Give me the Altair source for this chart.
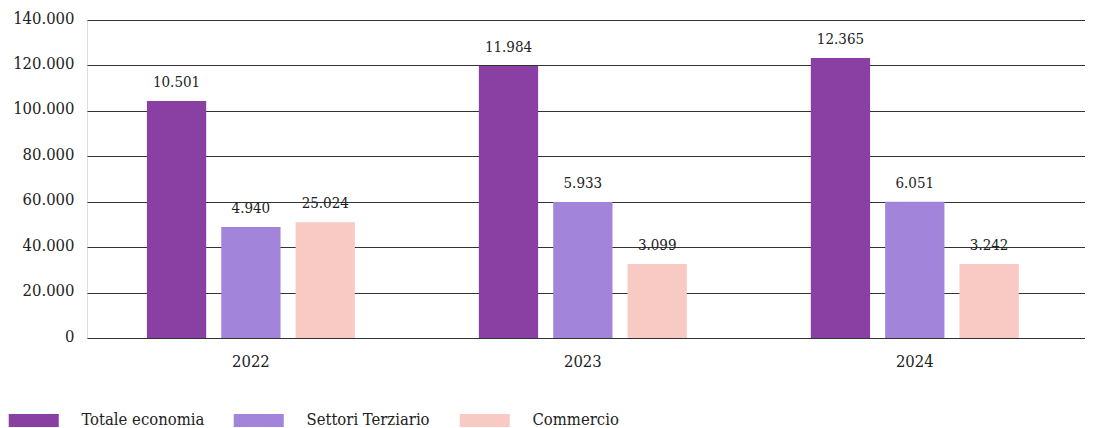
import altair as alt
import pandas as pd

years = ["2022", "2023", "2024"]
series = ["Totale economia", "Settori Terziario", "Commercio"]

# bar heights
totale = [104300, 119800, 123300]
terziario = [48900, 59900, 60000]
commercio = [51000, 32600, 32600]

# printed labels above the bars
totale_lbl = [10501, 11984, 12365]
terziario_lbl = [4940, 5933, 6051]
commercio_lbl = [25024, 3099, 3242]

colors = ["#8A40A3", "#A285DB", "#F9C9C3"]
y_ticks = [0, 20000, 40000, 60000, 80000, 100000, 120000, 140000]

rows = []
for s, vals, lbls in zip(series, [totale, terziario, commercio],
                         [totale_lbl, terziario_lbl, commercio_lbl]):
    for yr, v, l in zip(years, vals, lbls):
        rows.append({"anno": yr, "serie": s, "valore": v, "etichetta": l})
df = pd.DataFrame(rows)

FONT = "DejaVu Serif Condensed, Liberation Serif, serif"
TXT = "#222222"
AX = 16.5

x = alt.X("anno:N", title=None, sort=years,
          scale=alt.Scale(paddingInner=0.3735, paddingOuter=0.19, align=0.475),
          axis=alt.Axis(labelAngle=0, ticks=False, domain=False, grid=False,
                        labelPadding=15, labelFontSize=AX, labelColor=TXT,
                        labelFont=FONT))
xo = alt.XOffset("serie:N", sort=series,
                 scale=alt.Scale(paddingInner=0.2027, paddingOuter=0))
y = alt.Y("valore:Q", title=None,
          scale=alt.Scale(domain=[0, 140000], nice=False),
          axis=alt.Axis(values=y_ticks, format=",d", grid=True,
                        gridColor="#333333", gridOpacity=1, gridWidth=1,
                        domain=False, ticks=False, labelPadding=13,
                        labelOffset=-2,
                        labelFontSize=AX, labelColor=TXT, labelFont=FONT))

base = alt.Chart(df)

bars = base.mark_bar().encode(
    x=x, xOffset=xo, y=y,
    color=alt.Color("serie:N", sort=series,
                    scale=alt.Scale(domain=series, range=colors),
                    legend=alt.Legend(orient="none", legendX=-61.5, legendY=392,
                                      direction="horizontal", title=None,
                                      symbolType="M-3.85,-1H3.85V1H-3.85Z",
                                      symbolSize=169, symbolStrokeWidth=0,
                                      symbolOpacity=1,
                                      labelOffset=39.5, columnPadding=29,
                                      labelFontSize=AX, labelFont=FONT,
                                      labelColor=TXT, labelLimit=300)),
)

text = base.mark_text(dy=-19, baseline="middle", fontSize=15, font=FONT,
                      color=TXT).encode(
    x=x, xOffset=xo, y=y,
    text=alt.Text("etichetta:Q", format=",d"),
)

chart = (bars + text).properties(
    width=998, height=318,
    autosize=alt.AutoSizeParams(type="none"),
    padding={"left": 79, "top": 12, "right": 0, "bottom": 90},
).configure_view(stroke=None).configure(
    locale=alt.Locale(number=alt.NumberLocale(
        decimal=",", thousands=".", grouping=[3], currency=["€", ""]))
)

chart.save("out.html", embed_options={"renderer": "svg", "actions": False})
